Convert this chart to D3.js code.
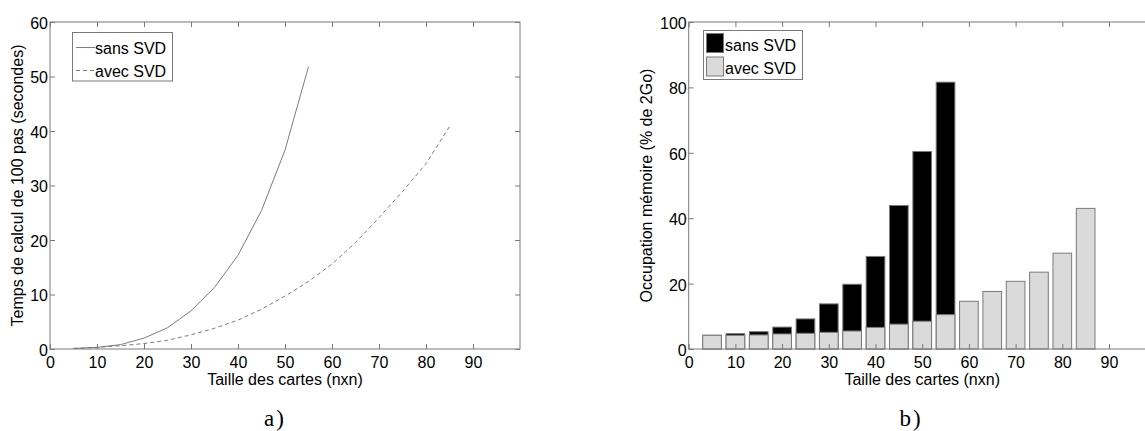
<!DOCTYPE html>
<html>
<head>
<meta charset="utf-8">
<script src="https://cdn.jsdelivr.net/npm/d3@7"></script>
<style>
  body { margin: 0; background: white; }
  text { font-family: "Liberation Sans", Arial, sans-serif; fill: black; }
</style>
</head>
<body>
<script>
// data for the left plot (time of 100 steps)
let tailleSans = [5, 10, 15, 20, 25, 30, 35, 40, 45, 50, 55];
let tailleAvec = [5, 10, 15, 20, 25, 30, 35, 40, 45, 50, 55, 60, 65, 70, 75, 80, 85];
let tempsSans = [0.1, 0.3, 0.8, 2.0, 3.9, 7.0, 11.3, 17.2, 25.4, 36.5, 51.8];
let tempsAvec = [0.1, 0.3, 0.6, 1.0, 1.6, 2.6, 3.8, 5.3, 7.3, 9.7, 12.4, 15.6, 19.5, 24.1, 28.9, 34.0, 40.8];

// data for the right plot (memory, % of 2Go)
let memSans = [4.2, 4.7, 5.3, 6.7, 9.2, 13.8, 19.8, 28.3, 43.9, 60.4, 81.6];
let memAvec = [4.2, 4.2, 4.3, 4.6, 4.8, 5.1, 5.5, 6.6, 7.6, 8.5, 10.5, 14.6, 17.6, 20.7, 23.5, 29.3, 43.0];

let xTicks = [0, 10, 20, 30, 40, 50, 60, 70, 80, 90];
let yTicksA = [0, 10, 20, 30, 40, 50, 60];
let yTicksB = [0, 20, 40, 60, 80, 100];

let axisCol = "#7a7a7a";
let lineCol = "#6e6e6e";

let svg = d3.select("body").append("svg")
  .attr("width", 1145)
  .attr("height", 431);

// draws the box, the inward ticks on all four sides and the labels
function drawFrame(g, x, y, yTicks, xLab, yLab, yLabX) {
  let [x0, x1] = x.range();
  let [y0, y1] = y.range();

  g.append("rect")
    .attr("x", x0).attr("y", y1)
    .attr("width", x1 - x0).attr("height", y0 - y1)
    .style("fill", "none").style("stroke", axisCol).style("stroke-width", 1);

  let bottom = g.append("g").attr("transform", `translate(0,${y0})`)
    .call(d3.axisBottom(x).tickValues(xTicks).tickSize(-5).tickPadding(8));
  let top = g.append("g").attr("transform", `translate(0,${y1})`)
    .call(d3.axisTop(x).tickValues(xTicks).tickSize(-5).tickFormat(""));
  let left = g.append("g").attr("transform", `translate(${x0},0)`)
    .call(d3.axisLeft(y).tickValues(yTicks).tickSize(-5).tickPadding(2));
  let right = g.append("g").attr("transform", `translate(${x1},0)`)
    .call(d3.axisRight(y).tickValues(yTicks).tickSize(-5).tickFormat(""));

  [bottom, top, left, right].forEach(a => {
    a.select(".domain").remove();
    a.selectAll(".tick line").style("stroke", axisCol);
    a.selectAll("text").style("font-size", "16px").style("fill", "black")
      .style("font-family", '"Liberation Sans", Arial, sans-serif');
  });
  left.selectAll("text").attr("dy", "0.4em");

  g.append("text")
    .attr("x", (x0 + x1) / 2).attr("y", 385)
    .attr("text-anchor", "middle")
    .style("font-size", "16px")
    .text(xLab);

  g.append("text")
    .attr("transform", `translate(${yLabX},${(y0 + y1) / 2}) rotate(-90)`)
    .attr("text-anchor", "middle")
    .style("font-size", "16px")
    .text(yLab);
}

// ---------- plot a) ----------
let xA = d3.scaleLinear().domain([0, 100]).range([50, 520]);
let yA = d3.scaleLinear().domain([0, 60]).range([349, 22]);
let gA = svg.append("g");

let line = d3.line()
  .x(d => xA(d[0]))
  .y(d => yA(d[1]));

gA.append("path")
  .datum(d3.zip(tailleSans, tempsSans))
  .attr("d", line)
  .style("fill", "none").style("stroke", lineCol).style("stroke-width", 0.9);

gA.append("path")
  .datum(d3.zip(tailleAvec, tempsAvec))
  .attr("d", line)
  .style("fill", "none").style("stroke", lineCol).style("stroke-width", 0.9)
  .style("stroke-dasharray", "4,3");

drawFrame(gA, xA, yA, yTicksA, "Taille des cartes (nxn)",
  "Temps de calcul de 100 pas (secondes)", 23);

// legend a)
let legA = gA.append("g");
legA.append("rect")
  .attr("x", 72.5).attr("y", 32.5).attr("width", 100).attr("height", 48.5)
  .style("fill", "white").style("stroke", axisCol);
[["sans SVD", null], ["avec SVD", "4,3"]].forEach((d, i) => {
  let yy = 47.5 + i * 23;
  legA.append("line")
    .attr("x1", 76).attr("x2", 95).attr("y1", yy).attr("y2", yy)
    .style("stroke", lineCol).style("stroke-width", 0.9)
    .style("stroke-dasharray", d[1]);
  legA.append("text")
    .attr("x", 95).attr("y", yy + 6)
    .style("font-size", "16px")
    .text(d[0]);
});

// ---------- plot b) ----------
let xB = d3.scaleLinear().domain([0, 100]).range([688.7, 1155.7]);
let yB = d3.scaleLinear().domain([0, 100]).range([349, 22]);
let gB = svg.append("g");
let bw = xB(4) - xB(0);

gB.selectAll(".barSans")
  .data(d3.zip(tailleSans, memSans))
  .enter().append("rect")
  .attr("class", "barSans")
  .attr("x", d => xB(d[0]) - bw / 2)
  .attr("y", d => yB(d[1]))
  .attr("width", bw)
  .attr("height", d => yB(0) - yB(d[1]))
  .style("fill", "black").style("stroke", axisCol);

gB.selectAll(".barAvec")
  .data(d3.zip(tailleAvec, memAvec))
  .enter().append("rect")
  .attr("class", "barAvec")
  .attr("x", d => xB(d[0]) - bw / 2)
  .attr("y", d => yB(d[1]))
  .attr("width", bw)
  .attr("height", d => yB(0) - yB(d[1]))
  .style("fill", "#dadada").style("stroke", axisCol);

drawFrame(gB, xB, yB, yTicksB, "Taille des cartes (nxn)",
  "Occupation mémoire (% de 2Go)", 652);

// legend b)
let legB = gB.append("g");
legB.append("rect")
  .attr("x", 703.5).attr("y", 30.5).attr("width", 99).attr("height", 49)
  .style("fill", "white").style("stroke", axisCol);
[["sans SVD", "black"], ["avec SVD", "#dadada"]].forEach((d, i) => {
  let yy = 33.5 + i * 23.5;
  legB.append("rect")
    .attr("x", 706.5).attr("y", yy).attr("width", 17).attr("height", 19)
    .style("fill", d[1]).style("stroke", axisCol);
  legB.append("text")
    .attr("x", 725).attr("y", yy + 17)
    .style("font-size", "16px")
    .text(d[0]);
});

// sub-figure captions
[["a)", 275], ["b)", 911]].forEach(d => {
  svg.append("text")
    .attr("x", d[1]).attr("y", 426)
    .attr("text-anchor", "middle")
    .style("font-family", '"Liberation Serif", "DejaVu Serif", serif')
    .style("font-size", "23px")
    .style("letter-spacing", "2px")
    .text(d[0]);
});
</script>
</body>
</html>
